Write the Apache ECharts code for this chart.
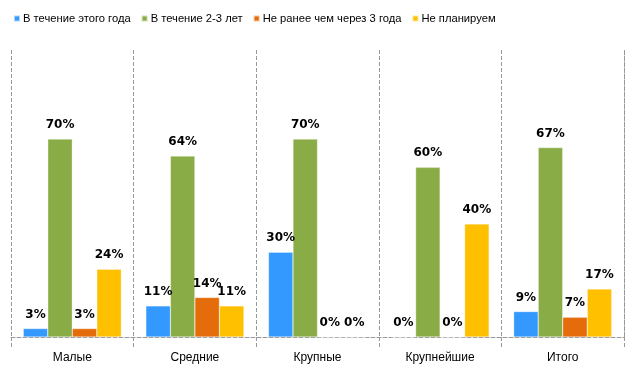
<!DOCTYPE html>
<html><head><meta charset="utf-8">
<script src="https://cdn.jsdelivr.net/npm/echarts@6/dist/echarts.min.js"></script>
<style>html,body{margin:0;padding:0;background:#fff}#c{width:630px;height:365px}</style>
</head><body><div id="c"></div>
<script>
const categories = ['Малые', 'Средние', 'Крупные', 'Крупнейшие', 'Итого'];
const seriesNames = ['В течение этого года', 'В течение 2-3 лет', 'Не ранее чем через 3 года', 'Не планируем'];
const thisYear = [3, 11, 30, 0, 9];
const in2to3 = [70, 64, 70, 60, 67];
const after3 = [3, 14, 0, 0, 7];
const notPlanned = [24, 11, 0, 40, 17];
const colors = ['#3399ff', '#8aac46', '#e46c0a', '#ffc000'];

const values = [thisYear, in2to3, after3, notPlanned];
const chart = echarts.init(document.getElementById('c'));
chart.setOption({
  animation: false,
  color: colors,
  legend: {
    top: 8, left: 8, itemWidth: 6, itemHeight: 6, itemGap: 10,
    icon: 'rect',
    textStyle: { fontFamily: 'Liberation Sans, Arial', fontSize: 11.2, color: '#000', padding: [0, 0, 0, -2] },
    data: seriesNames
  },
  grid: { left: 11, right: 6, top: 50, bottom: 28 },
  xAxis: {
    type: 'category', data: categories, boundaryGap: true,
    axisLine: { lineStyle: { color: '#999', type: 'dashed', width: 1 } },
    axisTick: { show: true, length: 10, lineStyle: { color: '#999', type: 'dashed' } },
    splitLine: { show: true, lineStyle: { color: '#999', type: 'dashed' } },
    axisLabel: { fontFamily: 'Liberation Sans, Arial', fontSize: 12, color: '#000', margin: 15 }
  },
  yAxis: [{
    type: 'value', min: 0, max: 101.5, show: true,
    axisLine: { show: false }, axisTick: { show: false }, axisLabel: { show: false },
    splitLine: { show: false }
  }, {
    type: 'value', min: 0, max: 101.5, position: 'right',
    axisLine: { show: true, lineStyle: { color: '#999', type: 'dashed' } },
    axisTick: { show: false }, axisLabel: { show: false }, splitLine: { show: false }
  }],
  series: seriesNames.map((n, i) => ({
    name: n, type: 'bar', data: values[i],
    barGap: '0%', barCategoryGap: '20%',
    itemStyle: { borderColor: 'rgba(255,255,255,0.6)', borderWidth: 0.5 },
    label: {
      show: true, position: 'top', formatter: '{c}%', distance: 8,
      fontFamily: 'DejaVu Sans, Verdana', fontWeight: 'bold', fontSize: 12, color: '#000'
    }
  }))
});
</script></body></html>
